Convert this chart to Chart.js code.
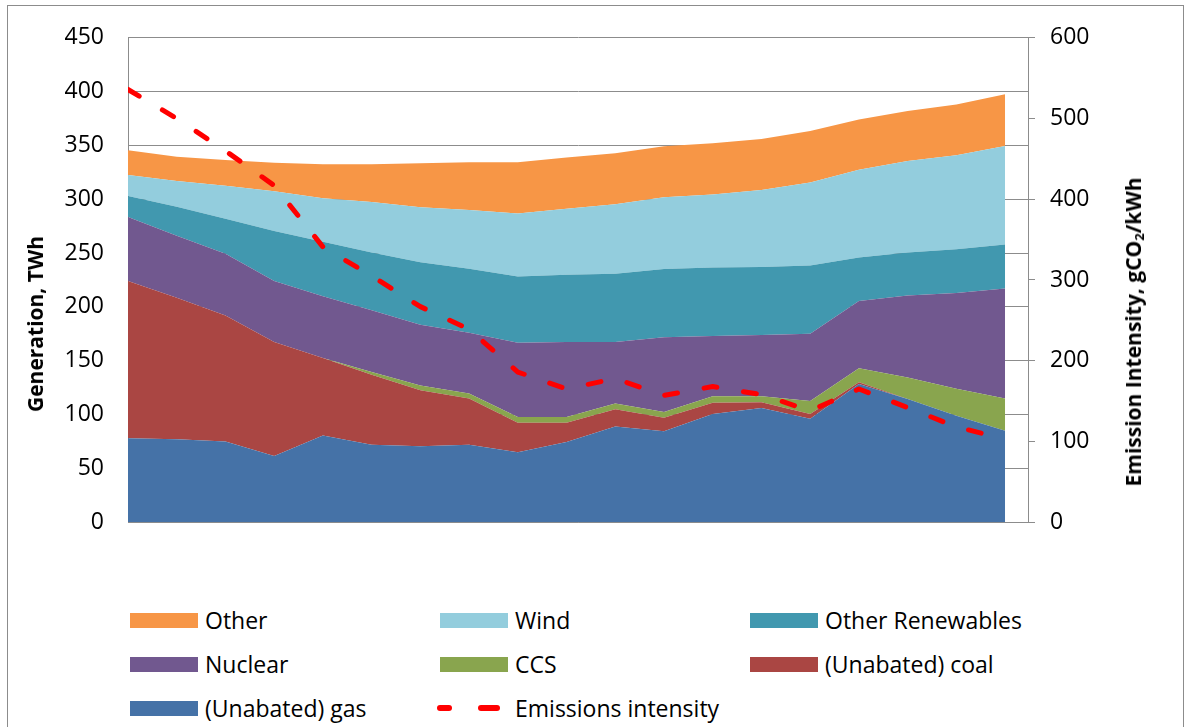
<!DOCTYPE html>
<html>
<head>
<meta charset="utf-8">
<script src="https://cdn.jsdelivr.net/npm/chart.js@4.4.1/dist/chart.umd.min.js"></script>
<style>
    body { margin: 0; background: #fff; font-family: "Open Sans", sans-serif; color: #000; }
    #wrap { position: relative; width: 1191px; height: 727px; overflow: hidden; }
    #frame { position: absolute; left: 7px; top: 5px; width: 1175px; height: 760px; border: 1px solid #8c8c8c; }
    #chart { position: absolute; left: 0; top: 0; }
    .axis-title { position: absolute; white-space: nowrap; font-weight: bold; font-size: 21px;
                  transform: translate(-50%, -50%) rotate(-90deg); }
    .axis-title sub { font-size: 0.62em; vertical-align: -0.25em; line-height: 0; }
    .lg { position: absolute; height: 30px; display: flex; align-items: center; font-size: 23px; white-space: nowrap; }
    .lg .box { width: 68px; height: 15px; margin-right: 7px; }
    .dash { position: absolute; height: 6px; border-radius: 3px; background: #ff0000; }
</style>
</head>
<body>
<div id="wrap">
    <div id="frame"></div>
    <canvas id="chart" width="1191" height="560"></canvas>
    <div class="axis-title" style="left:35px; top:324px;">Generation, TWh</div>
    <div class="axis-title" style="left:1133px; top:332px;">Emission Intensity, gCO<sub>2</sub>/kWh</div>
    <div id="legend"></div>
</div>
<script>
// ---------- Data ----------
const steps = [0, 1, 2, 3, 4, 5, 6, 7, 8, 9, 10, 11, 12, 13, 14, 15, 16, 17, 18];

const gas      = [78, 77, 75, 61.5, 80.5, 72, 70.5, 72, 65, 74.5, 89, 84.5, 100.5, 106, 96, 128.5, 114.5, 99, 85];
const coal     = [146, 131.5, 117, 106, 72, 65, 52, 43, 27.5, 18, 16, 12.5, 10.5, 5.5, 4.5, 1.5, 0, 0, 0];
const ccs      = [0, 0, 0, 0, 0, 2.5, 4.5, 4.5, 5.3, 5.3, 5.3, 5.3, 6, 5.5, 12, 13, 20, 25, 30];
const nuclear  = [59.5, 57.5, 57.5, 56.5, 57.5, 57.5, 56.5, 56.5, 69, 69.5, 57, 69.5, 56, 57, 62.5, 62.5, 76, 89, 102];
const otherRen = [19.5, 27, 32.5, 46.5, 50.5, 53.5, 58, 59.5, 61.5, 62.5, 63.5, 63.5, 63.5, 63, 63.5, 40.5, 40, 40.5, 41];
const wind     = [19.5, 24, 30.5, 37, 40.5, 47, 51, 54.5, 58.5, 61.5, 64.5, 66.5, 68, 71.5, 77, 81.5, 85, 87.5, 91.5];
const other    = [23, 22.5, 24, 26.5, 31.5, 35, 41, 44.5, 47.5, 47.5, 47.5, 47.5, 47.5, 47.5, 48, 46.5, 46.5, 47, 48];

const intensity = [536, 500, 460, 417, 341, 305, 267, 239, 186, 165, 178, 157, 168, 158, 138, 165, 142, 118, 103];

const genTicks = [0, 50, 100, 150, 200, 250, 300, 350, 400, 450];
const intTicks = [0, 100, 200, 300, 400, 500, 600];

// ---------- Series (bottom to top) ----------
const SERIES = [
    { label: '(Unabated) gas',  values: gas,      color: '#4572a7' },
    { label: '(Unabated) coal', values: coal,     color: '#aa4643' },
    { label: 'CCS',             values: ccs,      color: '#89a54e' },
    { label: 'Nuclear',         values: nuclear,  color: '#71588f' },
    { label: 'Other Renewables',values: otherRen, color: '#4198af' },
    { label: 'Wind',            values: wind,     color: '#93cddd' },
    { label: 'Other',           values: other,    color: '#f79646' }
];

const toPoints = arr => arr.map((v, i) => ({ x: steps[i], y: v }));

const datasets = SERIES.map((s, i) => ({
    label: s.label,
    data: toPoints(s.values),
    yAxisID: 'y',
    backgroundColor: s.color,
    borderColor: s.color,
    borderWidth: 0,
    pointRadius: 0,
    pointHoverRadius: 0,
    fill: i === 0 ? 'origin' : '-1',
    order: 1
}));

datasets.push({
    label: 'Emissions intensity',
    data: toPoints(intensity),
    yAxisID: 'y2',
    borderColor: '#ff0000',
    borderWidth: 5,
    borderDash: [13, 27],
    borderCapStyle: 'round',
    borderJoinStyle: 'round',
    pointRadius: 0,
    pointHoverRadius: 0,
    fill: false,
    order: 0
});

const tickFont = { family: 'Open Sans', size: 23 };
const GRID = '#8c8c8c';

new Chart(document.getElementById('chart'), {
    type: 'line',
    data: { datasets },
    options: {
        responsive: false,
        animation: false,
        events: [],
        layout: { padding: { top: 36, bottom: 37, left: 0, right: 0 } },
        plugins: { legend: { display: false }, tooltip: { enabled: false } },
        scales: {
            x: {
                type: 'linear',
                min: 0,
                max: 18.47,
                ticks: { display: false },
                grid: { display: false },
                border: { display: true, color: GRID, width: 1 },
                afterFit: s => { s.height = 0; }
            },
            y: {
                position: 'left',
                stacked: true,
                min: 0,
                max: 450,
                afterBuildTicks: s => { s.ticks = genTicks.map(v => ({ value: v })); },
                ticks: { font: tickFont, color: '#000', padding: 24 },
                grid: { color: GRID, lineWidth: 1, drawTicks: false },
                border: { display: true, color: GRID, width: 1 },
                afterFit: s => { s.width = 128; }
            },
            y2: {
                position: 'right',
                min: 0,
                max: 600,
                afterBuildTicks: s => { s.ticks = intTicks.map(v => ({ value: v })); },
                ticks: { font: tickFont, color: '#000', padding: 15 },
                grid: { drawOnChartArea: false, drawTicks: true, tickLength: 7, color: GRID },
                border: { display: true, color: GRID, width: 1 },
                afterFit: s => { s.width = 163; }
            }
        }
    }
});

// ---------- HTML legend ----------
const legend = document.getElementById('legend');
const LEGEND_ROWS = [
    [['Other', '#f79646'], ['Wind', '#93cddd'], ['Other Renewables', '#4198af']],
    [['Nuclear', '#71588f'], ['CCS', '#89a54e'], ['(Unabated) coal', '#aa4643']],
    [['(Unabated) gas', '#4572a7'], ['Emissions intensity', null]]
];
const colX = [130, 440, 750];
const rowY = [620, 664, 708];

LEGEND_ROWS.forEach((row, r) => {
    row.forEach((item, c) => {
        const el = document.createElement('div');
        el.className = 'lg';
        el.style.left = colX[c] + 'px';
        el.style.top = (rowY[r] - 15) + 'px';
        if (item[1]) {
            el.innerHTML = `<span class="box" style="background:${item[1]}"></span>${item[0]}`;
        } else {
            // dashed line sample
            el.innerHTML = `<span style="display:inline-block;width:68px;margin-right:7px"></span>${item[0]}`;
            const d1 = document.createElement('div');
            d1.className = 'dash';
            d1.style.cssText = `left:437px;top:${rowY[r] - 3}px;width:15px`;
            const d2 = document.createElement('div');
            d2.className = 'dash';
            d2.style.cssText = `left:478px;top:${rowY[r] - 3}px;width:22px`;
            legend.appendChild(d1);
            legend.appendChild(d2);
        }
        legend.appendChild(el);
    });
});
</script>
</body>
</html>
